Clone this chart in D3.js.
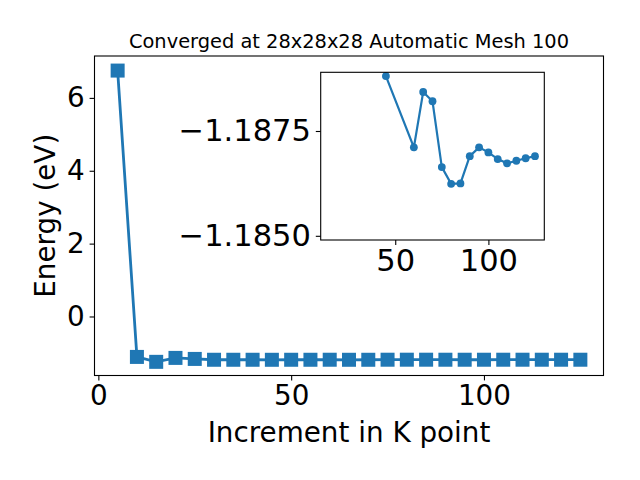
<!DOCTYPE html>
<html><head><meta charset="utf-8">
<script src="https://cdn.jsdelivr.net/npm/d3@7"></script>
<style>body{margin:0;background:#fff}svg{display:block}text{font-family:"DejaVu Sans",sans-serif;fill:#000}</style>
</head><body>
<script>
const title = "Converged at 28x28x28 Automatic Mesh 100";
const xLabel = "Increment in K point";
const yLabel = "Energy (eV)";
const mainX = [5,10,15,20,25,30,35,40,45,50,55,60,65,70,75,80,85,90,95,100,105,110,115,120,125];
const mainY = [6.75,-1.11,-1.245,-1.137,-1.165,-1.188,-1.188,-1.188,-1.1888,-1.188,-1.188,-1.1871,-1.1884,-1.1882,-1.1866,-1.1862,-1.1863,-1.1869,-1.1871,-1.187,-1.1868,-1.1867,-1.1868,-1.1869,-1.1869];
const insetX = [45,60,65,70,75,80,85,90,95,100,105,110,115,120,125];
const insetY = [-1.18881,-1.18711,-1.18843,-1.18821,-1.18664,-1.18624,-1.18625,-1.18690,-1.18711,-1.18699,-1.18683,-1.18673,-1.18679,-1.18685,-1.18690];
const mainXTicks = [0,50,100];
const mainYTicks = [0,2,4,6];
const insetXTicks = [50,100];
const insetYTicks = [-1.1875,-1.1850];

const W=640,H=480, color="#1f77b4";
const svg=d3.select("body").append("svg").attr("width",W).attr("height",H);
const M={l:94.5,r:603.5,t:56,b:375.5};
const x=d3.scaleLinear().domain([-1,131]).range([M.l,M.r]);
const y=d3.scaleLinear().domain([-1.62,7.15]).range([M.b,M.t]);
const fmtMinus = s => String(s).replace("-","\u2212");

function styleAxis(g,fs){
  g.select(".domain").remove();
  g.selectAll(".tick line").attr("stroke","#000").attr("stroke-width",1.1);
  g.selectAll(".tick text").attr("font-size",fs+"px").attr("font-family","DejaVu Sans");
}
const gx=svg.append("g").attr("transform",`translate(0,${M.b})`)
  .call(d3.axisBottom(x).tickValues(mainXTicks).tickSize(4.9).tickPadding(4.9).tickFormat(d=>fmtMinus(d)));
styleAxis(gx,27.8);
const gy=svg.append("g").attr("transform",`translate(${M.l},0)`)
  .call(d3.axisLeft(y).tickValues(mainYTicks).tickSize(4.9).tickPadding(4.9).tickFormat(d=>fmtMinus(d)));
styleAxis(gy,27.8);

const line=d3.line().x((d,i)=>x(mainX[i])).y(d=>y(d));
svg.append("path").datum(mainY).attr("d",line).attr("fill","none").attr("stroke",color).attr("stroke-width",2.8);
const ms=14;
svg.selectAll("rect.m").data(mainY).join("rect").attr("class","m")
  .attr("x",(d,i)=>x(mainX[i])-ms/2).attr("y",d=>y(d)-ms/2).attr("width",ms).attr("height",ms).attr("fill",color);
svg.append("rect").attr("x",M.l).attr("y",M.t).attr("width",M.r-M.l).attr("height",M.b-M.t)
  .attr("fill","none").attr("stroke","#000").attr("stroke-width",1.1);

svg.append("text").attr("x",(M.l+M.r)/2).attr("y",48).attr("text-anchor","middle").attr("font-size","19.4px").text(title);
svg.append("text").attr("x",(M.l+M.r)/2).attr("y",441.5).attr("text-anchor","middle").attr("font-size","27.8px").text(xLabel);
svg.append("text").attr("transform",`translate(55,${(M.t+M.b)/2}) rotate(-90)`).attr("text-anchor","middle").attr("font-size","27.8px").text(yLabel);

// inset
const I={l:320.7,r:544.3,t:72.3,b:240};
const ix=d3.scaleLinear().domain([10,130]).range([I.l,I.r]);
const iy=d3.scaleLinear().domain([-1.1889,-1.1849]).range([I.t,I.b]);
svg.append("rect").attr("x",I.l).attr("y",I.t).attr("width",I.r-I.l).attr("height",I.b-I.t).attr("fill","#fff");
const igx=svg.append("g").attr("transform",`translate(0,${I.b})`)
  .call(d3.axisBottom(ix).tickValues(insetXTicks).tickSize(4.9).tickPadding(4.9));
styleAxis(igx,30.5);
const igy=svg.append("g").attr("transform",`translate(${I.l},0)`)
  .call(d3.axisLeft(iy).tickValues(insetYTicks).tickSize(4.9).tickPadding(4.9).tickFormat(d=>fmtMinus(d3.format(".4f")(d))));
styleAxis(igy,30.5);
const iline=d3.line().x((d,i)=>ix(insetX[i])).y(d=>iy(d));
svg.append("path").datum(insetY).attr("d",iline).attr("fill","none").attr("stroke",color).attr("stroke-width",2.2);
svg.selectAll("circle.i").data(insetY).join("circle").attr("class","i")
  .attr("cx",(d,i)=>ix(insetX[i])).attr("cy",d=>iy(d)).attr("r",3.9).attr("fill",color);
svg.append("rect").attr("x",I.l).attr("y",I.t).attr("width",I.r-I.l).attr("height",I.b-I.t)
  .attr("fill","none").attr("stroke","#000").attr("stroke-width",1.1);
</script>
</body></html>
